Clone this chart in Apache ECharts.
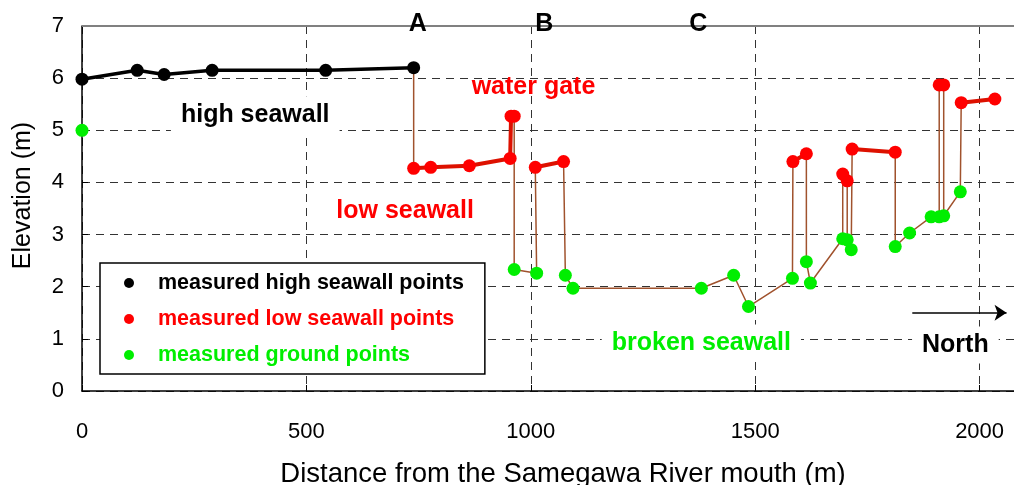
<!DOCTYPE html>
<html lang="en">
<head>
<meta charset="UTF-8">
<title>Seawall elevation</title>
<script src="https://cdn.jsdelivr.net/npm/echarts@6/dist/echarts.min.js"></script>
<style>
    html, body { margin: 0; padding: 0; background: #fff; }
    #chart { width: 1014px; height: 485px; }
</style>
</head>
<body>
<div id="chart"></div>
<script>
    // high seawall points (distance m, elevation m)
    var highX = [0, 123, 183, 290, 543, 739];
    var highY = [5.98, 6.15, 6.07, 6.15, 6.15, 6.20];

    // ground point at the river mouth
    var mouthX = [0];
    var mouthY = [5.0];

    // survey traverse from A northwards, H/L/G = high wall, low wall, ground
    var trX = [739, 739, 777, 863, 954, 956, 963, 963, 1013, 1010, 1073, 1077, 1094, 1380, 1452, 1485, 1583,
        1584, 1614, 1614, 1623, 1695, 1695, 1705, 1705, 1714, 1716, 1812, 1812, 1844, 1892, 1910, 1910, 1920,
        1920, 1957, 1959, 2034];
    var trY = [6.20, 4.27, 4.29, 4.32, 4.46, 5.27, 5.27, 2.33, 2.26, 4.29, 4.40, 2.22, 1.97, 1.97, 2.22, 1.62, 2.16,
        4.40, 4.55, 2.48, 2.07, 2.92, 4.16, 4.03, 2.90, 2.71, 4.64, 4.58, 2.77, 3.03, 3.34, 3.34, 5.87, 5.87,
        3.36, 3.82, 5.53, 5.60];
    var trKind = ['H', 'L', 'L', 'L', 'L', 'L', 'L', 'G', 'G', 'L', 'L', 'G', 'G', 'G', 'G', 'G', 'G',
        'L', 'L', 'G', 'G', 'G', 'L', 'L', 'G', 'G', 'L', 'L', 'G', 'G', 'G', 'G', 'L', 'L',
        'G', 'G', 'L', 'L'];

    var xTicks = [0, 500, 1000, 1500, 2000];

    var legendNames = ['measured high seawall points', 'measured low seawall points', 'measured ground points'];

    var FONT = 'Liberation Sans, Arial, Helvetica, sans-serif';
    var BLACK = '#000000', RED = '#ff0000', GREEN = '#00ee00', BROWN = '#a0522d';

    // text notes placed in data units
    var notes = [
        {text: 'high seawall', x: 386, y: 5.30, color: BLACK, bg: true},
        {text: 'water gate', x: 1006, y: 5.82, color: RED},
        {text: 'low seawall', x: 720, y: 3.45, color: RED},
        {text: 'broken seawall', x: 1380, y: 0.92, color: GREEN, bg: true},
        {text: 'North', x: 1946, y: 0.88, color: BLACK, bg: true},
        {text: 'A', x: 748, y: 7.04, color: BLACK},
        {text: 'B', x: 1030, y: 7.04, color: BLACK},
        {text: 'C', x: 1373, y: 7.04, color: BLACK}
    ];

    function chart() {
        var myChart = echarts.init(document.getElementById('chart'));

        var pathData = trX.map(function (x, i) { return [x, trY[i]]; });
        var highData = highX.map(function (x, i) { return [x, highY[i]]; });

        var lowData = [];
        var groundData = mouthX.map(function (x, i) { return [x, mouthY[i]]; });
        for (var i = 0; i < trX.length; i++) {
            if (trKind[i] === 'L') {
                lowData.push([trX[i], trY[i]]);
            } else {
                if (i > 0 && trKind[i - 1] === 'L') lowData.push([trX[i], '-']);
                if (trKind[i] === 'G') groundData.push([trX[i], trY[i]]);
            }
        }

        var noteData = notes.map(function (n) {
            return {
                name: n.text,
                value: [n.x, n.y],
                label: {
                    color: n.color,
                    backgroundColor: n.bg ? '#fff' : 'transparent',
                    padding: n.bg ? [6, 10, 6, 10] : 0
                }
            };
        });

        var option = {
            animation: false,
            backgroundColor: '#fff',
            grid: {left: 82, right: -6, top: 26, bottom: 94, outerBoundsMode: 'none', containLabel: false},
            legend: {
                orient: 'vertical',
                left: 100,
                top: 263,
                padding: [9, 21, 8, 24],
                itemGap: 14,
                itemWidth: 48,
                itemHeight: 10,
                icon: 'circle',
                borderColor: '#000',
                borderWidth: 1.5,
                borderRadius: 0,
                backgroundColor: '#fff',
                textStyle: {fontSize: 21.5, fontWeight: 'bold', fontFamily: FONT},
                data: [
                    {name: legendNames[0], textStyle: {color: BLACK}},
                    {name: legendNames[1], textStyle: {color: RED}},
                    {name: legendNames[2], textStyle: {color: GREEN}}
                ]
            },
            xAxis: {
                type: 'value',
                min: 0,
                max: 2090,
                interval: 500,
                name: 'Distance from the Samegawa River mouth (m)',
                nameLocation: 'middle',
                nameGap: 69,
                nameTextStyle: {fontSize: 27.5, color: '#000', fontFamily: FONT, padding: [0, 0, 0, 24]},
                axisLine: {lineStyle: {color: '#000', width: 1.5}},
                axisTick: {inside: true, length: 6, lineStyle: {color: '#000'}},
                axisLabel: {
                    fontSize: 22, color: '#000', fontFamily: FONT, margin: 30, showMaxLabel: false,
                    formatter: function (v) { return xTicks.indexOf(v) >= 0 ? String(v) : ''; }
                },
                splitLine: {show: true, lineStyle: {color: '#333', type: [8, 6], width: 1}}
            },
            yAxis: {
                type: 'value',
                min: 0,
                max: 7,
                interval: 1,
                name: 'Elevation (m)',
                nameLocation: 'middle',
                nameGap: 46,
                nameTextStyle: {fontSize: 25, color: '#000', fontFamily: FONT, padding: [0, 0, 0, 26]},
                axisLine: {show: true, lineStyle: {color: '#000', width: 1.5}},
                axisTick: {show: true, inside: true, length: 6, lineStyle: {color: '#000'}},
                axisLabel: {fontSize: 22, color: '#000', fontFamily: FONT, margin: 18},
                splitLine: {show: true, lineStyle: {color: '#333', type: [8, 6], width: 1}}
            },
            series: [
                {
                    name: 'traverse',
                    type: 'line',
                    data: pathData,
                    showSymbol: false,
                    lineStyle: {color: BROWN, width: 1.5},
                    z: 1,
                    silent: true,
                    markLine: {
                        silent: true,
                        symbol: 'none',
                        label: {show: false},
                        lineStyle: {color: '#808080', type: 'solid', width: 2},
                        data: [{yAxis: 7}]
                    }
                },
                {
                    name: legendNames[0],
                    type: 'line',
                    data: highData,
                    symbol: 'circle',
                    symbolSize: 13,
                    itemStyle: {color: BLACK},
                    lineStyle: {color: BLACK, width: 3.5},
                    z: 3
                },
                {
                    name: legendNames[1],
                    type: 'line',
                    data: lowData,
                    connectNulls: false,
                    symbol: 'circle',
                    symbolSize: 13,
                    itemStyle: {color: RED},
                    lineStyle: {color: '#dd1100', width: 4},
                    z: 3
                },
                {
                    name: legendNames[2],
                    type: 'scatter',
                    data: groundData,
                    symbol: 'circle',
                    symbolSize: 13,
                    itemStyle: {color: GREEN, opacity: 1},
                    z: 4
                },
                {
                    name: 'notes',
                    type: 'scatter',
                    data: noteData,
                    symbolSize: 0,
                    clip: false,
                    silent: true,
                    itemStyle: {opacity: 1},
                    z: 5,
                    label: {
                        show: true,
                        position: 'inside',
                        formatter: '{b}',
                        fontSize: 25,
                        fontWeight: 'bold',
                        fontFamily: FONT
                    },
                    markLine: {
                        silent: true,
                        symbol: ['none', 'arrow'],
                        symbolSize: 12,
                        label: {show: false},
                        lineStyle: {color: '#000', type: 'solid', width: 1.5},
                        data: [[{coord: [1850, 1.50]}, {coord: [2060, 1.50]}]]
                    }
                }
            ]
        };

        myChart.setOption(option);
    }

    chart();
</script>
</body>
</html>
